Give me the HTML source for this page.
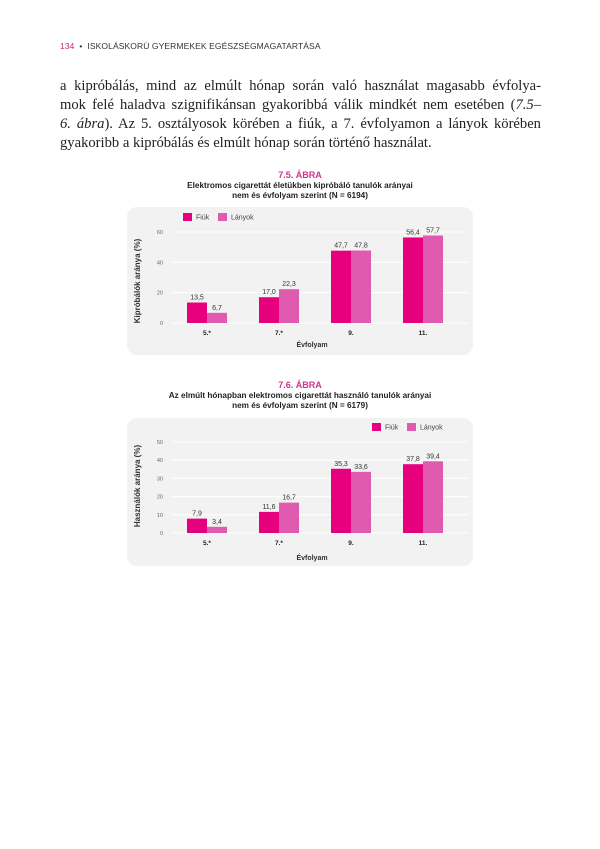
<!DOCTYPE html>
<html><head><meta charset="utf-8">
<style>
body{margin:0;width:600px;height:849px;background:#fff;position:relative;overflow:hidden;font-family:"Liberation Sans",sans-serif}
.hdr{position:absolute;left:60px;top:41px;font-size:8.5px;color:#333;letter-spacing:0.1px}
.hdr b{color:#c0287f;font-weight:normal}
.p{position:absolute;left:60px;width:481px;font-family:"Liberation Serif",serif;font-size:14.6px;color:#222;line-height:19px}
.p div{text-align:justify;text-align-last:justify;height:19px;white-space:nowrap}
.p div.last{text-align-last:left}
svg{position:absolute;left:0;top:0}
</style></head><body>
<div class="hdr"><b>134</b> &nbsp;•&nbsp; ISKOLÁSKORÚ GYERMEKEK EGÉSZSÉGMAGATARTÁSA</div>
<div class="p" style="top:77px">
<div>a kipróbálás, mind az elmúlt hónap során való használat magasabb évfolya-</div>
<div>mok felé haladva szignifikánsan gyakoribbá válik mindkét nem esetében (<i>7.5–</i></div>
<div><i>6. ábra</i>). Az 5. osztályosok körében a fiúk, a 7. évfolyamon a lányok körében</div>
<div class="last">gyakoribb a kipróbálás és elmúlt hónap során történő használat.</div>
</div>
<svg id="s" width="600" height="849" xmlns="http://www.w3.org/2000/svg" font-family="Liberation Sans, sans-serif"></svg>
<script>
const categories=["5.*","7.*","9.","11."];
const c1Fiuk=[13.5,17.0,47.7,56.4];
const c1Lanyok=[6.7,22.3,47.8,57.7];
const c1Ticks=[0,20,40,60];
const c2Fiuk=[7.9,11.6,35.3,37.8];
const c2Lanyok=[3.4,16.7,33.6,39.4];
const c2Ticks=[0,10,20,30,40,50];

const NS="http://www.w3.org/2000/svg";
const svg=document.getElementById('s');
function el(t,a,txt,parent){const e=document.createElementNS(NS,t);for(const k in a)e.setAttribute(k,a[k]);if(txt!==undefined)e.textContent=txt;(parent||svg).appendChild(e);return e;}
const FC="#e6007e",LC="#e05bb0";
function fmt(v){return v.toFixed(1).replace('.',',');}

function chart(o){
  const g=el('g',{});
  
  
  let t=el('text',{x:300,y:o.titleY,'text-anchor':'middle','font-size':9,fill:'#d0328c','font-weight':'bold'},o.num,g);
  
  t=el('text',{x:300,y:o.titleY+10,'text-anchor':'middle','font-size':8.2,'font-weight':'bold',fill:'#222'},o.t1,g);
  
  t=el('text',{x:300,y:o.titleY+20,'text-anchor':'middle','font-size':8.2,'font-weight':'bold',fill:'#222'},o.t2,g);
  
  const p=el('rect',{x:127,y:o.panelY,width:346,height:148,rx:10,fill:'#f2f2f2'},undefined,g);
  
  const y0=o.zeroY, ppu=91/o.max;
  const yS=v=>y0-v*ppu;
  const xS=i=>187+i*72;
  o.ticks.forEach(v=>{
    const l=el('line',{x1:172,x2:468,y1:yS(v),y2:yS(v),stroke:'#fff','stroke-width':1},undefined,g);
    
    const tx=el('text',{x:163,y:yS(v)+2,'text-anchor':'end','font-size':5.5,fill:'#666'},String(v),g);
    
  });
  categories.forEach((c,i)=>{
    const x=xS(i);
    [[o.f[i],FC,0,'bar-fiuk'],[o.l[i],LC,20,'bar-lanyok']].forEach(([v,col,dx,nm])=>{
      const r=el('rect',{x:x+dx,y:yS(v),width:20,height:v*ppu,fill:col},undefined,g);
      
      const lb=el('text',{x:x+dx+10,y:yS(v)-3,'text-anchor':'middle','font-size':7,fill:'#333'},fmt(v),g);
      
    });
    const cl=el('text',{x:x+20,y:y0+12,'text-anchor':'middle','font-size':6.5,'font-weight':'bold',fill:'#222'},c,g);
    
  });
  const xt=el('text',{x:312,y:o.xTitleY,'text-anchor':'middle','font-size':7,'font-weight':'bold',fill:'#333'},'Évfolyam',g);
  
  const yt=el('text',{x:0,y:0,'text-anchor':'middle','font-size':8,'font-weight':'bold',fill:'#333',transform:`translate(140,${o.yTitleY}) rotate(-90)`},o.yTitle,g);
  
  [[o.legX,'Fiúk',FC,'legend-fiuk'],[o.legX+35,'Lányok',LC,'legend-lanyok']].forEach(([lx,txt,col,nm])=>{
    const lg=el('g',{},undefined,g);
    
    el('rect',{x:lx,y:o.legY-4,width:9,height:8,fill:col},undefined,lg);
    el('text',{x:lx+13,y:o.legY+2.5,'font-size':7,fill:'#444'},txt,lg);
  });
}
chart({name:'chart-7-5',num:'7.5. ÁBRA',t1:'Elektromos cigarettát életükben kipróbáló tanulók arányai',t2:'nem és évfolyam szerint (N = 6194)',titleY:178,panelY:207,zeroY:323,max:60,ticks:c1Ticks,f:c1Fiuk,l:c1Lanyok,xTitleY:347,yTitleY:281,yTitle:'Kipróbálók aránya (%)',legX:183,legY:217});
chart({name:'chart-7-6',num:'7.6. ÁBRA',t1:'Az elmúlt hónapban elektromos cigarettát használó tanulók arányai',t2:'nem és évfolyam szerint (N = 6179)',titleY:388,panelY:418,zeroY:533,max:50,ticks:c2Ticks,f:c2Fiuk,l:c2Lanyok,xTitleY:560,yTitleY:486,yTitle:'Használók aránya (%)',legX:372,legY:427});
</script>
</body></html>
